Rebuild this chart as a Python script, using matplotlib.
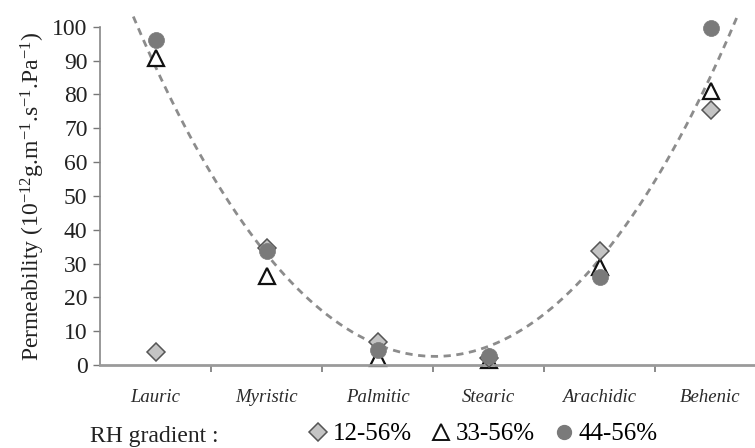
import numpy as np
import matplotlib
matplotlib.use("Agg")
import matplotlib.pyplot as plt
from matplotlib.lines import Line2D

plt.rcParams["font.family"] = ["Liberation Serif", "DejaVu Serif"]
plt.rcParams["mathtext.fontset"] = "custom"
plt.rcParams["mathtext.rm"] = "Liberation Serif"
plt.rcParams["mathtext.it"] = "Liberation Serif:italic"

acids = ["Lauric", "Myristic", "Palmitic", "Stearic", "Arachidic", "Behenic"]
rh_12_56 = [3.9, 34.5, 6.8, 2.0, 33.8, 75.3]
rh_33_56 = [90.8, 26.4, 2.2, 1.5, 29.0, 81.0]
rh_44_56 = [96.0, 33.8, 4.4, 2.7, 26.0, 99.5]
legend_labels = ["12-56%", "33-56%", "44-56%"]

# trend line (x in category index)
trend_x = [-0.2, 0.4, 0.97, 1.12, 1.27, 1.42, 1.72, 2.0, 2.14, 2.59, 2.92, 3.22, 3.55, 4.0, 4.46, 4.9, 5.24]
trend_y = [101, 68.6, 32, 25.7, 21.3, 17.2, 11.2, 6.8, 5.3, 3.5, 5.3, 9.0, 16.3, 30, 52.7, 78, 103.5]

fig = plt.figure(figsize=(7.55, 4.48), dpi=100)
ax = fig.add_axes([100 / 755, 83 / 448, 655 / 755, 338.3 / 448])

x = np.arange(len(acids))

coef = np.polyfit(trend_x, trend_y, 4)
xs = np.linspace(trend_x[0], trend_x[-1], 200)
ax.plot(xs, np.polyval(coef, xs), color="#8c8c8c", lw=2, dashes=(2.6, 2.0),
        clip_on=False, zorder=1)

ax.plot(x, rh_12_56, "D", ms=9.5, mfc="#c4c4c4", mec="#555555", mew=1.1,
        ls="none", zorder=3, clip_on=False)
ax.plot(x, rh_33_56, "^", ms=12, mfc="white", mec="#111111", mew=1.6,
        ls="none", zorder=2, clip_on=False)
ax.plot(x, rh_44_56, "o", ms=11.5, mfc="#7a7a7a", mec="#7a7a7a", mew=0.5,
        ls="none", zorder=4, clip_on=False)

ax.set_xlim(-0.5, 5.4)
ax.set_ylim(0, 100)
ax.set_yticks(np.arange(0, 101, 10))
ax.set_xticks(x)
ax.set_xticklabels(acids, fontstyle="italic", fontsize=13.5)
ax.set_xticks(np.arange(0.5, 5.5, 1), minor=True)
ax.tick_params(axis="x", which="major", length=0, pad=17, colors="#2a2a2a")
ax.tick_params(axis="x", which="minor", length=5, width=1.2, color="#777777",
               direction="out")
ax.tick_params(axis="y", length=5, width=1, color="#777777", direction="out",
               labelsize=17, pad=4, labelcolor="#222222")

for s in ["top", "right"]:
    ax.spines[s].set_visible(False)
ax.spines["left"].set_color("#888888")
ax.spines["left"].set_linewidth(1.2)
ax.spines["bottom"].set_color("#9a9a9a")
ax.spines["bottom"].set_linewidth(2)

ax.set_ylabel("Permeability (10$^{-12}$g.m$^{-1}$.s$^{-1}$.Pa$^{-1}$)",
              fontsize=17, color="#222222", labelpad=4)

fig.text(90 / 755, 1 - 436 / 448, "RH gradient :", fontsize=17,
         va="center", ha="left", color="#222222")

handles = [
    Line2D([], [], marker="D", ls="none", ms=9, mfc="#c4c4c4", mec="#555555", mew=1.1),
    Line2D([], [], marker="^", ls="none", ms=12, mfc="white", mec="#111111", mew=1.4),
    Line2D([], [], marker="o", ls="none", ms=10, mfc="#7a7a7a", mec="#7a7a7a"),
]
fig.legend(handles, legend_labels, loc="center left", ncol=3, frameon=False,
           bbox_to_anchor=(308 / 755, 1 - 434 / 448), fontsize=18,
           handlelength=0.8, handletextpad=0.2, columnspacing=0.75,
           borderaxespad=0, borderpad=0)

fig.savefig("out.png", dpi=100, facecolor="white")
